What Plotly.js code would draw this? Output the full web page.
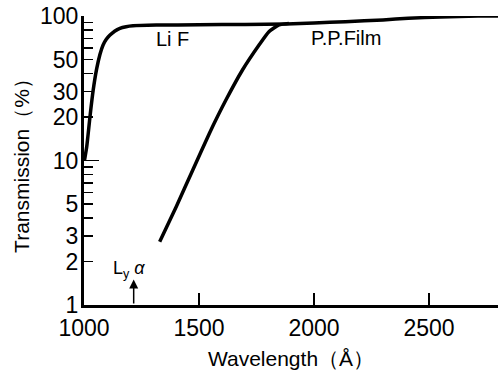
<!DOCTYPE html>
<html>
<head>
<meta charset="utf-8">
<script src="https://cdn.plot.ly/plotly-3.0.1.min.js"></script>
<style>
  html, body { margin: 0; padding: 0; background: #fff; }
  #chart { width: 498px; height: 372px; }
</style>
</head>
<body>
<div id="chart"></div>
<script>
// LiF transmission (wavelength in Angstrom, transmission in %)
const lifWavelength = [1002, 1012, 1026, 1040, 1055, 1069, 1083, 1097, 1112, 1133, 1156, 1183, 1213, 1314, 1500, 1700, 1880, 2000, 2137, 2300, 2410, 2550, 2713, 2800];
const lifTransmission = [10, 12.5, 20.1, 30.7, 43, 54, 63, 69, 73.5, 78.5, 82.2, 84.3, 85.5, 86.5, 87, 87.5, 88.2, 89.5, 91.4, 94, 96.4, 98.5, 100, 100];

// P.P. Film transmission
const ppWavelength = [1329, 1401, 1473, 1545, 1617, 1689, 1761, 1804, 1848, 1891];
const ppTransmission = [2.74, 4.79, 8.6, 15.4, 26.2, 42.3, 63, 77.9, 86.7, 88.9];

// Axis ticks
const xTickVals = [1000, 1500, 2000, 2500];
const xTickText = ['1000', '1500', '2000', '2500'];
const yTickVals = [1, 2, 3, 4, 5, 6, 7, 8, 9, 10, 20, 30, 40, 50, 60, 70, 80, 90, 100];
const yTickText = ['1', '2', '3', '', '5', '', '', '', '', '10', '20', '30', '', '50', '', '', '', '', '100'];
const yMajorVals = [10, 100];

// Lyman alpha marker
const lyAlphaWavelength = 1216;

const font = 'Liberation Sans, Arial, sans-serif';

const traces = [
  {
    x: lifWavelength, y: lifTransmission, type: 'scatter', mode: 'lines',
    line: { color: '#000', width: 3.5, shape: 'spline', smoothing: 0.5 },
    name: 'Li F', hoverinfo: 'skip'
  },
  {
    x: ppWavelength, y: ppTransmission, type: 'scatter', mode: 'lines',
    line: { color: '#000', width: 3.5, shape: 'spline', smoothing: 0.5 },
    name: 'P.P.Film', hoverinfo: 'skip'
  },
  {
    x: [lyAlphaWavelength], y: [1], yaxis: 'y2', type: 'scatter', mode: 'none',
    showlegend: false, hoverinfo: 'skip'
  }
];

const layout = {
  width: 498, height: 372,
  margin: { l: 84, r: 0, t: 16, b: 67 },
  paper_bgcolor: '#fff', plot_bgcolor: '#fff',
  showlegend: false,
  font: { family: font, color: '#000' },
  xaxis: {
    range: [1000, 2800],
    showgrid: false, zeroline: false,
    showline: true, linecolor: '#000', linewidth: 3,
    ticks: 'inside', ticklen: 12, tickwidth: 1.5, tickcolor: '#000',
    tickmode: 'array', tickvals: xTickVals, ticktext: xTickText,
    tickfont: { size: 23, family: font },
    title: { text: 'Wavelength（Å）', font: { size: 21, family: font }, standoff: 12 },
    automargin: false
  },
  yaxis: {
    type: 'log', range: [0, 2],
    showgrid: false, zeroline: false,
    showline: true, linecolor: '#000', linewidth: 3,
    ticks: 'inside', ticklen: 9, tickwidth: 1.5, tickcolor: '#000',
    tickmode: 'array', tickvals: yTickVals, ticktext: yTickText,
    tickfont: { size: 23, family: font },
    ticklabelstandoff: -2,
    title: { text: 'Transmission（%）', font: { size: 21, family: font }, standoff: 5 },
    automargin: false
  },
  yaxis2: {
    type: 'log', range: [0, 2], overlaying: 'y', side: 'left',
    showgrid: false, zeroline: false, showline: false,
    ticks: 'inside', ticklen: 15, tickwidth: 1.5, tickcolor: '#000',
    tickmode: 'array', tickvals: yMajorVals, showticklabels: false
  },
  annotations: [
    { x: 1305, y: Math.log10(69), xref: 'x', yref: 'y', text: 'Li F', showarrow: false,
      xanchor: 'left', yanchor: 'middle', font: { size: 20, family: font } },
    { x: 1980, y: Math.log10(70), xref: 'x', yref: 'y', text: 'P.P.Film', showarrow: false,
      xanchor: 'left', yanchor: 'middle', font: { size: 20, family: font } },
    { x: lyAlphaWavelength, y: Math.log10(1.5), xref: 'x', yref: 'y',
      ax: lyAlphaWavelength, ay: 0, axref: 'x', ayref: 'y',
      text: '', showarrow: true, arrowhead: 2, arrowsize: 1.2, arrowwidth: 1.5, arrowcolor: '#000' },
    { x: 1195, y: Math.log10(1.75), xref: 'x', yref: 'y',
      text: 'L<sub>y</sub> <i>α</i>', showarrow: false,
      xanchor: 'center', yanchor: 'middle', font: { size: 18, family: font } }
  ]
};

Plotly.newPlot('chart', traces, layout, { staticPlot: true, displayModeBar: false });
</script>
</body>
</html>
